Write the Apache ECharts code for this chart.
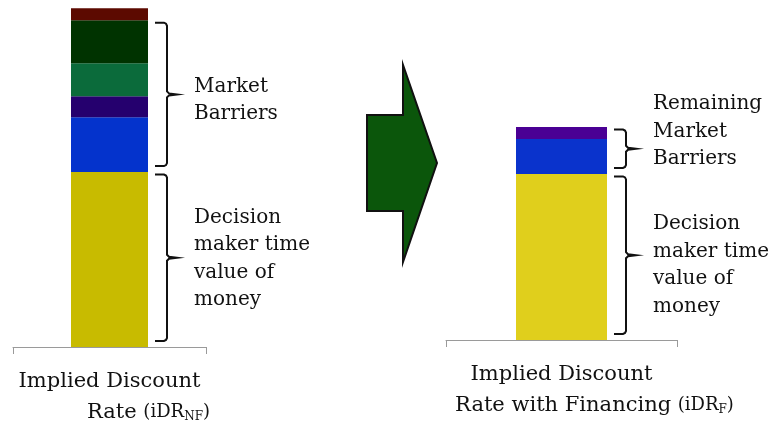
<!DOCTYPE html>
<html>
<head>
<meta charset="utf-8">
<script src="https://cdn.jsdelivr.net/npm/echarts@6/dist/echarts.min.js"></script>
<style>
    html, body { margin: 0; padding: 0; background: #fff; }
    #main { width: 772px; height: 428px; }
</style>
</head>
<body>
<div id="main"></div>
<script>
// 类目
const leftCategory = ['iDR_NF'];
const rightCategory = ['iDR_F'];

// 堆叠分段, 从下到上
const leftSegments = ['Time value of money', 'Barrier 1', 'Barrier 2', 'Barrier 3', 'Barrier 4', 'Barrier 5'];
const leftValues = [51.6, 16.2, 6.2, 9.7, 12.7, 3.5];
const rightSegments = ['Time value of money', 'Barrier 1', 'Barrier 2'];
const rightValues = [49.0, 10.3, 3.5];

// 注释文字
const leftNotes = ['Market\nBarriers', 'Decision\nmaker time\nvalue of\nmoney'];
const rightNotes = ['Remaining\nMarket\nBarriers', 'Decision\nmaker time\nvalue of\nmoney'];

const leftColors = ['#c8bb00', '#0433cc', '#25006e', '#0b6b3b', '#003300', '#5c0a00'];
const rightColors = ['#e0cf1c', '#0a33cc', '#4a0094'];

const FONT = '"DejaVu Serif", serif';
const LEFT_BAR_W = 77, RIGHT_BAR_W = 91;

let chart = echarts.init(document.getElementById('main'));

function makeSeries(names, values, colors, axisIndex, width) {
    return names.map((n, i) => ({
        name: n,
        type: 'bar',
        stack: 'g' + axisIndex,
        xAxisIndex: axisIndex,
        yAxisIndex: axisIndex,
        barWidth: width,
        itemStyle: { color: colors[i] },
        emphasis: { disabled: true },
        data: [values[i]]
    }));
}

function xAxisCfg(idx, data, label, spacer) {
    return {
        type: 'category',
        gridIndex: idx,
        data: data,
        axisLine: { lineStyle: { color: '#9a9a9a', width: 1 } },
        axisTick: { show: true, length: 7, lineStyle: { color: '#9a9a9a' } },
        axisLabel: {
            margin: 19,
            formatter: () => label,
            rich: {
                a: { fontFamily: FONT, fontSize: 21, color: '#111', lineHeight: 31 },
                b: { fontFamily: FONT, fontSize: 18, color: '#111', lineHeight: 31 },
                sub: { fontFamily: FONT, fontSize: 12, color: '#111', lineHeight: 31, padding: [9, 0, 0, 0] },
                gap: { width: spacer, lineHeight: 31 }
            }
        }
    };
}

let option = {
    backgroundColor: '#fff',
    animation: false,
    grid: [
        { left: 13, width: 193, top: 8, height: 339 },
        { left: 446, width: 231, top: 1, height: 339 }
    ],
    xAxis: [
        xAxisCfg(0, leftCategory, '{a|Implied Discount}\n{gap|}{a|Rate }{b|(iDR}{sub|NF}{b|)}', 78),
        xAxisCfg(1, rightCategory, '{a|Implied Discount}\n{gap|}{a|Rate with Financing }{b|(iDR}{sub|F}{b|)}', 66)
    ],
    yAxis: [
        { type: 'value', gridIndex: 0, min: 0, max: 100, show: false },
        { type: 'value', gridIndex: 1, min: 0, max: 100, show: false }
    ],
    series: makeSeries(leftSegments, leftValues, leftColors, 0, LEFT_BAR_W)
        .concat(makeSeries(rightSegments, rightValues, rightColors, 1, RIGHT_BAR_W))
};
chart.setOption(option);

// 花括号折线点
function bracePoints(x0, xv, xt, y0, y1) {
    let ym = (y0 + y1) / 2, r = 3;
    return [
        [x0, y0], [xv - r, y0], [xv - 1, y0 + 1], [xv, y0 + r],
        [xv, ym - 3], [xv + 2, ym - 1], [xt, ym], [xv + 2, ym + 1], [xv, ym + 3],
        [xv, y1 - r], [xv - 1, y1 - 1], [xv - r, y1], [x0, y1]
    ];
}

function braces(idx, cat, values, barW, groups, notes, noteOffsets) {
    let cx = chart.convertToPixel({ xAxisIndex: idx }, cat);
    let right = cx + barW / 2;
    let out = [];
    groups.forEach((g, k) => {
        let lo = values.slice(0, g[0]).reduce((a, b) => a + b, 0);
        let hi = values.slice(0, g[1]).reduce((a, b) => a + b, 0);
        let y1 = chart.convertToPixel({ yAxisIndex: idx }, lo) - 6;
        let y0 = chart.convertToPixel({ yAxisIndex: idx }, hi) + 2.5;
        out.push({
            type: 'polyline',
            shape: { points: bracePoints(right + 7, right + 19, right + 29, y0, y1) },
            style: { fill: null, stroke: '#111', lineWidth: 2 }
        });
        out.push({
            type: 'text',
            x: right + 46,
            y: (y0 + y1) / 2 + noteOffsets[k],
            style: {
                text: notes[k],
                font: '20px ' + FONT,
                fill: '#111',
                lineHeight: 27.5,
                verticalAlign: 'middle'
            }
        });
    });
    return out;
}

let graphics = []
    .concat(braces(0, leftCategory[0], leftValues, LEFT_BAR_W, [[1, 5], [0, 1]], leftNotes, [6, 1]))
    .concat(braces(1, rightCategory[0], rightValues, RIGHT_BAR_W, [[1, 3], [0, 1]], rightNotes, [-17, 10]));

// 箭头
graphics.push({
    type: 'polygon',
    shape: { points: [[367, 115], [403, 115], [403, 65], [437, 163], [403, 262], [403, 211], [367, 211]] },
    style: { fill: '#0b560b', stroke: '#111', lineWidth: 2 }
});

chart.setOption({ graphic: graphics });
</script>
</body>
</html>
